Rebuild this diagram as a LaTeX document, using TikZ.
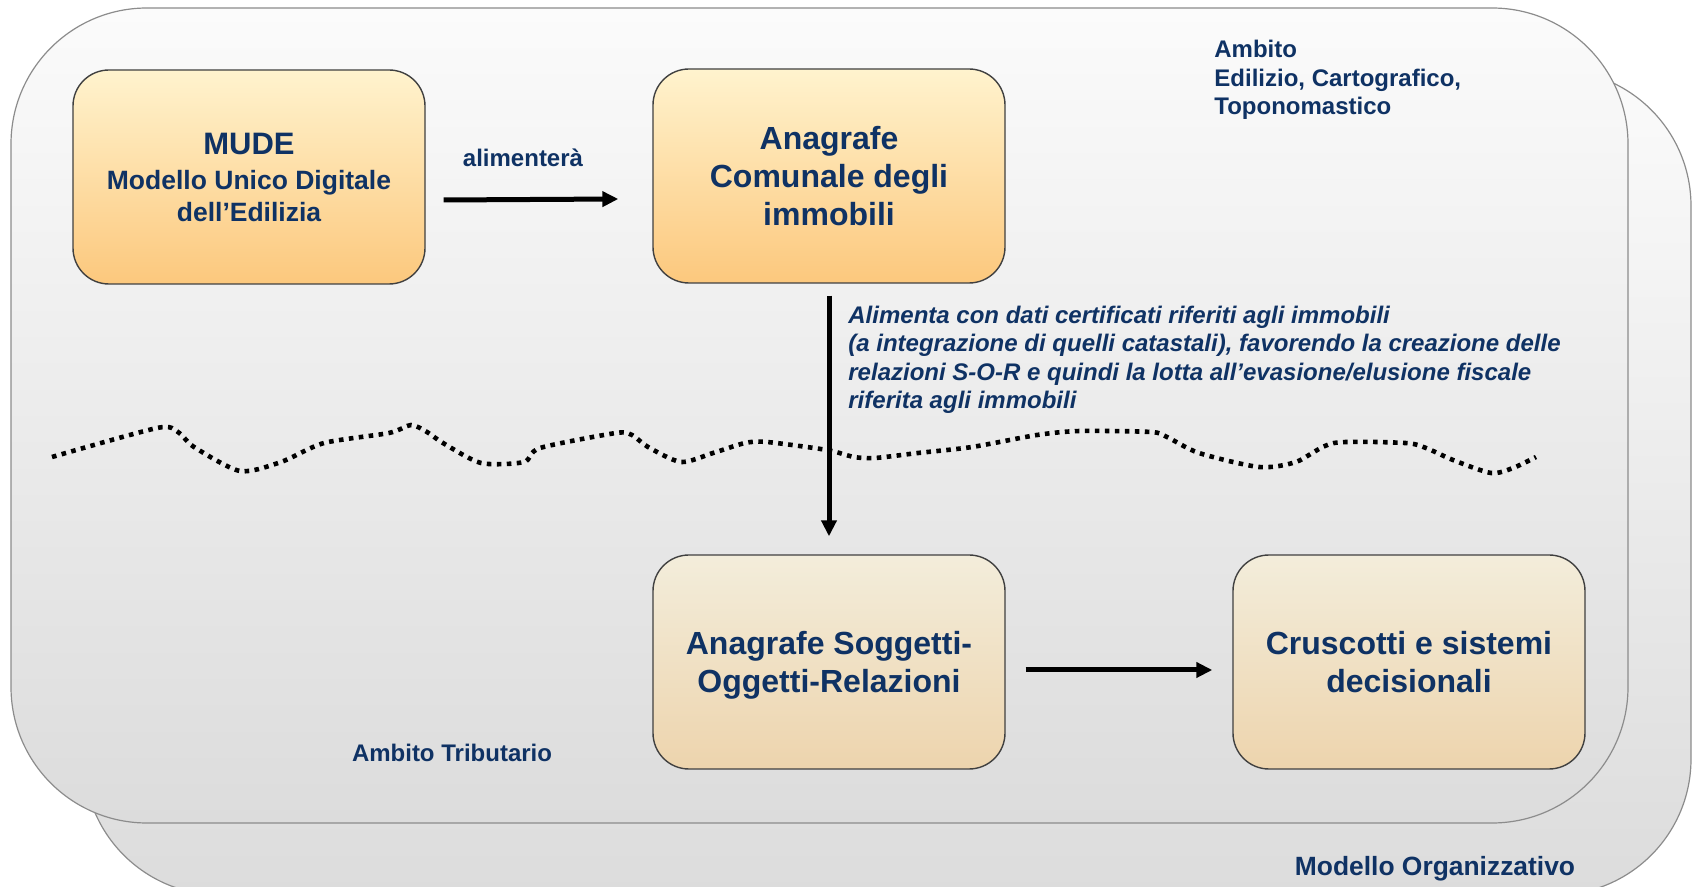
\documentclass[tikz,border=0pt]{standalone}
\usepackage{fontspec}
\setmainfont{Liberation Sans}
\usetikzlibrary{arrows.meta}
\definecolor{blu}{RGB}{15,50,100}
\definecolor{bordo}{RGB}{140,140,140}
\definecolor{sfondoalto}{RGB}{251,251,251}
\definecolor{sfondobasso}{RGB}{220,220,220}
\definecolor{gialloalto}{RGB}{255,243,206}
\definecolor{giallobasso}{RGB}{252,200,125}
\definecolor{beigealto}{RGB}{243,237,219}
\definecolor{beigebasso}{RGB}{237,212,173}

\begin{document}
\begin{tikzpicture}[x=0.5pt,y=-0.5pt,
		pannello/.style={draw=bordo,line width=0.6pt,rounded corners=68pt,top color=sfondoalto,bottom color=sfondobasso},
		riquadro/.style={rectangle,draw=black!75,line width=0.7pt,rounded corners=18pt,minimum width=176pt,minimum height=107pt,inner sep=0pt,text depth=-2pt,align=center,text=blu,font=\bfseries\fontsize{16}{19}\selectfont},
		sopra/.style={riquadro,top color=gialloalto,bottom color=giallobasso},
		sotto/.style={riquadro,top color=beigealto,bottom color=beigebasso},
		testo/.style={inner sep=0pt,text=blu,font=\bfseries\fontsize{12}{14.25}\selectfont},
		freccia/.style={line width=2.5pt,-{Triangle[length=8pt,width=7.5pt]}},
		onda/.style={line width=2.3pt,dash pattern=on 2.3pt off 2.7pt}]
	\useasboundingbox (0,0) rectangle (1694,887);
	% i due ambiti, uno dietro l'altro
	\path [pannello] (84,70) rectangle (1691,895);
	\path [pannello] (11,8) rectangle (1628,823);
	\draw [onda] plot [smooth,tension=0.45] coordinates {(52,457) (157,428) (178,432) (194,447) (240,471) (281,462) (324,443) (389,433) (411,425) (427,432) (443,443) (481,463) (524,462) (540,448) (616,433) (632,435) (648,447) (681,462) (713,453) (745,443) (767,442) (827,450) (854,457) (875,458) (918,453) (972,447) (1037,435) (1080,431) (1151,432) (1167,437) (1199,453) (1259,467) (1296,462) (1334,443) (1405,443) (1426,448) (1453,460) (1491,473) (1513,468) (1536,457)};

	\node [sopra,font=\bfseries\fontsize{13.25}{15.7}\selectfont] (mude) at (249,177) {\fontsize{15.5}{18}\selectfont MUDE\\[2.1pt] \fontsize{13.25}{15.7}\selectfont Modello Unico Digitale\\ \fontsize{13.25}{15.7}\selectfont dell’Edilizia};
	\node [sopra] (acom) at (829,176) {Anagrafe\\Comunale degli\\immobili};
	\node [sotto] (sor) at (829,662) {Anagrafe Soggetti-\\Oggetti-Relazioni};
	\node [sotto] (crus) at (1409,662) {Cruscotti e sistemi\\decisionali};

	\node [testo] (alim) at (523,158) {alimenterà};
	\node [testo,anchor=west,align=left] (edil) at (1214,80) {Ambito\\Edilizio, Cartografico,\\Toponomastico};
	\node [testo,anchor=west,align=left,font=\bfseries\itshape\fontsize{12}{14.25}\selectfont] (alimenta) at (848,360) {Alimenta con dati certificati riferiti agli immobili\\(a integrazione di quelli catastali), favorendo la creazione delle\\relazioni S-O-R e quindi la lotta all’evasione/elusione fiscale\\riferita agli immobili};
	\node [testo] (trib) at (452,753) {Ambito Tributario};
	\node [testo,font=\bfseries\fontsize{13.2}{15}\selectfont] (org) at (1435,869) {Modello Organizzativo};

	\draw [freccia] ([xshift=9pt,yshift=-11.5pt]mude.east) -- ([xshift=-17pt,yshift=-11.5pt]acom.west);
	\draw [freccia,shorten <=6pt,shorten >=9pt] (acom) -- (sor);
	\draw [freccia] ([xshift=10pt,yshift=-4pt]sor.east) -- ([xshift=-10pt,yshift=-4pt]crus.west);
\end{tikzpicture}
\end{document}
